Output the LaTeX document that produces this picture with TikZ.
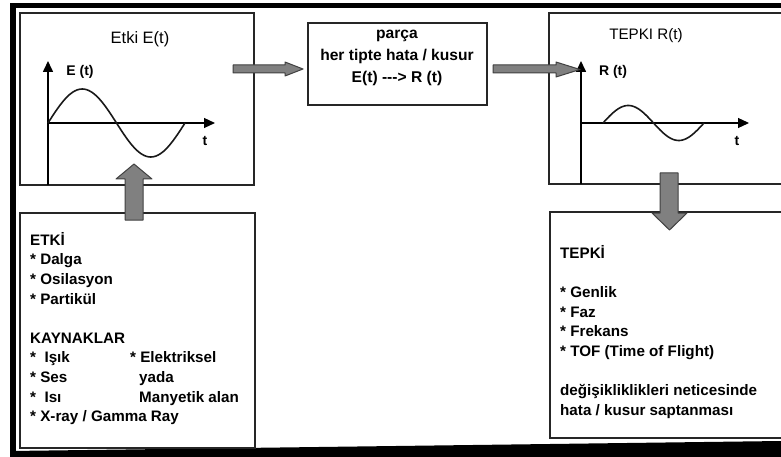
\documentclass[tikz,border=0pt]{standalone}
\usepackage{fontspec}
\setmainfont{Liberation Sans}
\usetikzlibrary{arrows.meta}
\tikzset{
  box/.style={draw=black!85, line width=1.7pt, fill=white},
  axis/.style={line width=1.6pt, -{Triangle[length=11pt,width=10pt]}},
  wave/.style={line width=1.6pt, black!90},
  blockarrow/.style={fill=black!50, draw=black!75, line width=1pt, line join=round},
  listtext/.style={anchor=north west, inner sep=0pt, align=left, font=\bfseries\fontsize{15.2}{19.6}\selectfont},
  boldlabel/.style={inner sep=0pt, font=\bfseries\fontsize{14}{16}\selectfont},
}
\begin{document}
\begin{tikzpicture}[x=1pt,y=-1pt]
\useasboundingbox (0,0) rectangle (781,457);
\clip (0,0) rectangle (781,457);
\fill[white] (0,0) rectangle (781,457);
% outer frame
\fill[black] (10,3) rectangle (781,8);
\fill[black] (10,3) rectangle (16,457);
\fill[black] (10,451) -- (781,441) -- (781,457) -- (10,457) -- cycle;

% boxes
\draw[box] (20,13) rectangle (254,185);
\draw[box] (308,23) rectangle (487,105);
\draw[box] (549,13) rectangle (795,184);
\draw[box] (20,213) rectangle (255,448);
\draw[box] (550,212) rectangle (795,438);

% titles
\node[inner sep=0pt, font=\fontsize{16.5}{18}\selectfont] (etkititle) at (140,39) {Etki E(t)};
\node[inner sep=0pt, font=\fontsize{15.2}{18}\selectfont] (tepkititle) at (646,36) {TEPKI R(t)};

% left graph
\coordinate (eo) at (48,123);
\coordinate (ebot) at (48,185);
\coordinate (etop) at (48,61);
\coordinate (eright) at (215,123);
\draw[axis] (ebot) -- (etop);
\draw[line width=1.2pt, -{Triangle[length=11pt,width=10pt]}] (eo) -- (eright);
\draw[wave] plot[domain=0:360, samples=72, smooth] ({48+\x/360*137},{123-34*sin(\x)});
\node[boldlabel] (elabel) at (80,72) {E (t)};
\node[boldlabel] (et) at (205,141) {t};

% right graph
\coordinate (ro) at (581,123);
\coordinate (rbot) at (581,184);
\coordinate (rtop) at (581,61);
\coordinate (rright) at (749,123);
\draw[axis] (rbot) -- (rtop);
\draw[line width=1.2pt, -{Triangle[length=11pt,width=10pt]}] (ro) -- (rright);
\draw[wave] plot[domain=0:360, samples=72, smooth] ({603+\x/360*101},{123-17.5*sin(\x)});
\node[boldlabel] (rlabel) at (613,72) {R (t)};
\node[boldlabel] (rt) at (737,141) {t};

% middle text
\node[inner sep=0pt, align=center, font=\bfseries\fontsize{15.6}{22}\selectfont] (parca) at (397,58)
  {parça\\her tipte hata / kusur\\E(t) -{}-{}-> R (t)};

% block arrows
\draw[blockarrow] (233,65) -- (285,65) -- (285,62) -- (303,69) -- (285,76) -- (285,73) -- (233,73) -- cycle;
\draw[blockarrow] (493,65) -- (556,65) -- (556,62) -- (580,69.5) -- (556,77) -- (556,73) -- (493,73) -- cycle;
\draw[blockarrow] (125,220) -- (125,179) -- (116,179) -- (134,164) -- (152,179) -- (143,179) -- (143,220) -- cycle;
\draw[blockarrow] (660,173) -- (678,173) -- (678,213) -- (687,213) -- (669.5,230) -- (652,213) -- (660,213) -- cycle;

% lower left text
\node[listtext] (etkilist) at (30,231.3)
  {\strut ETKİ\\* Dalga\\* Osilasyon\\* Partikül\\[19.6pt]KAYNAKLAR\\*\ \ Işık\\* Ses\\*\ \ Isı\\* X-ray / Gamma Ray};
\node[listtext] (etkilist2) at (130,349)
  {\strut * Elektriksel\\\hspace*{9pt}yada\\\hspace*{9pt}Manyetik alan};

% lower right text
\node[listtext] (tepkilist) at (560,244.3)
  {\strut TEPKİ\\[19.6pt]* Genlik\\* Faz\\* Frekans\\* TOF (Time of Flight)\\[19.6pt]değişikliklikleri neticesinde\\hata / kusur saptanması};
\end{tikzpicture}
\end{document}
